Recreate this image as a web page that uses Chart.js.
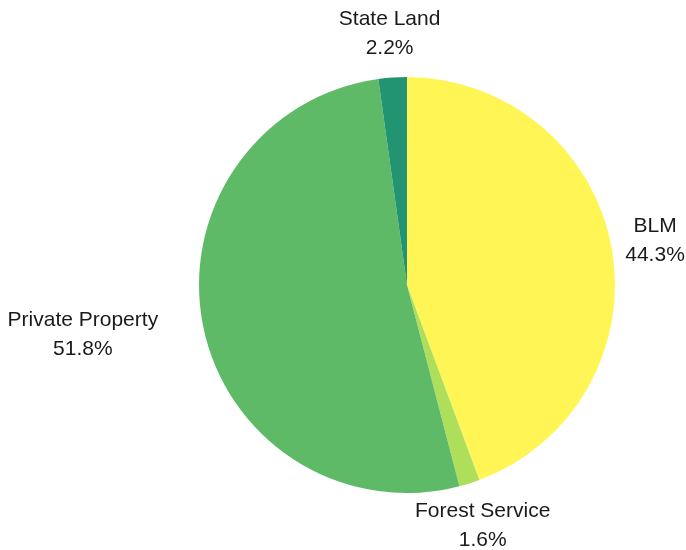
<!DOCTYPE html>
<html>
<head>
<meta charset="utf-8">
<script src="https://cdn.jsdelivr.net/npm/chart.js@4.4.1/dist/chart.umd.min.js"></script>
<style>
  html, body { margin: 0; padding: 0; background: #fff; }
  #wrap { width: 686px; height: 550px; }
</style>
</head>
<body>
<div id="wrap"><canvas id="myChart"></canvas></div>
<script>
const owners = ['BLM', 'Forest Service', 'Private Property', 'State Land'];
const shares = [44.3, 1.6, 51.8, 2.2];
const sliceColors = ['#fff655', '#addf5b', '#5fba67', '#229471'];

// extra shift for labels that would not sit well on the plain radial spot
const labelNudge = [[0, 0], [0, 0], [-77, 0], [0, 0]];

const outsideLabels = {
    id: 'outsideLabels',
    afterDatasetsDraw(chart) {
        const ctx = chart.ctx;
        const meta = chart.getDatasetMeta(0);
        ctx.save();
        ctx.font = '21px "Liberation Sans", Arial, sans-serif';
        ctx.fillStyle = '#1a1a1a';
        ctx.textAlign = 'center';
        ctx.textBaseline = 'middle';
        meta.data.forEach((arc, i) => {
            const p = arc.getProps(['x', 'y', 'startAngle', 'endAngle', 'outerRadius'], true);
            const mid = (p.startAngle + p.endAngle) / 2;
            const r = p.outerRadius + 44;
            const x = p.x + Math.cos(mid) * r + labelNudge[i][0];
            const y = p.y + Math.sin(mid) * r + labelNudge[i][1];
            ctx.fillText(owners[i], x, y - 14.5);
            ctx.fillText(shares[i].toFixed(1) + '%', x, y + 14.5);
        });
        ctx.restore();
    }
};

new Chart(document.getElementById('myChart'), {
    type: 'pie',
    data: {
        labels: owners,
        datasets: [{
            data: shares,
            backgroundColor: sliceColors,
            borderWidth: 0,
        }]
    },
    options: {
        responsive: true,
        maintainAspectRatio: false,
        animation: false,
        layout: {
            padding: { left: 199, right: 71, top: 77, bottom: 57 }
        },
        plugins: {
            legend: { display: false },
            tooltip: { enabled: false },
        }
    },
    plugins: [outsideLabels]
});
</script>
</body>
</html>
